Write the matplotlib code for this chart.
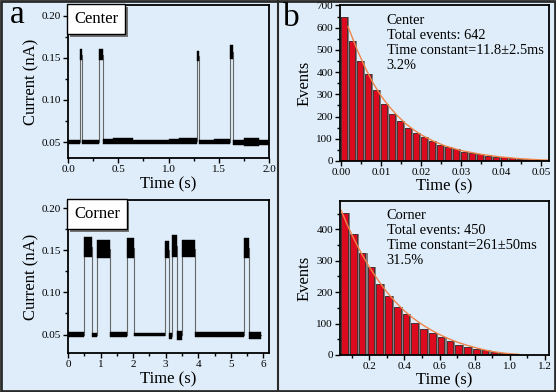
import numpy as np
import matplotlib
matplotlib.use("Agg")
import matplotlib.pyplot as plt
import matplotlib.patheffects as pe
from matplotlib.ticker import MultipleLocator, FormatStrFormatter
from matplotlib.patches import Rectangle
from matplotlib.lines import Line2D

plt.rcParams['font.family'] = ['Liberation Serif', 'DejaVu Serif']

bg = '#deedf9'
bar_red = '#dc0a1e'
fit_orange = '#f0844a'

# current traces: (start, end, level, half noise width) in s / nA
center_trace = [
    (0.00, 0.115, 0.050, 0.0028),
    (0.115, 0.140, 0.154, 0.007),
    (0.140, 0.310, 0.050, 0.0025),
    (0.310, 0.345, 0.154, 0.007),
    (0.345, 0.450, 0.051, 0.003),
    (0.450, 0.650, 0.051, 0.0038),
    (0.650, 0.800, 0.050, 0.0025),
    (0.800, 1.000, 0.050, 0.0022),
    (1.000, 1.100, 0.0505, 0.0028),
    (1.100, 1.288, 0.051, 0.0032),
    (1.288, 1.305, 0.152, 0.006),
    (1.305, 1.450, 0.050, 0.0025),
    (1.450, 1.607, 0.0505, 0.003),
    (1.607, 1.643, 0.157, 0.008),
    (1.643, 1.750, 0.050, 0.003),
    (1.750, 1.900, 0.050, 0.0048),
    (1.900, 2.000, 0.050, 0.003),
]
corner_trace = [
    (0.01, 0.50, 0.050, 0.003),
    (0.50, 0.73, 0.154, 0.012),
    (0.73, 0.88, 0.049, 0.0025),
    (0.88, 1.29, 0.152, 0.011),
    (1.29, 1.80, 0.050, 0.0025),
    (1.80, 2.04, 0.153, 0.012),
    (2.04, 2.97, 0.050, 0.0022),
    (2.97, 3.09, 0.151, 0.010),
    (3.09, 3.19, 0.048, 0.0035),
    (3.19, 3.36, 0.155, 0.013),
    (3.36, 3.50, 0.049, 0.005),
    (3.50, 3.89, 0.152, 0.010),
    (3.89, 4.60, 0.050, 0.0035),
    (4.60, 5.39, 0.050, 0.003),
    (5.39, 5.57, 0.153, 0.012),
    (5.57, 5.92, 0.049, 0.0045),
]

# dwell-time histograms
center_bin_start = 0.0
center_bin_width = 0.002
center_counts = [647, 542, 449, 392, 318, 257, 212, 181, 148, 127, 108, 91, 74,
                 62, 52, 42, 37, 30, 24, 20, 19, 13, 10, 7, 5, 3]
center_fit_t = [0.0017, 0.004, 0.006, 0.008, 0.010, 0.012, 0.014, 0.016, 0.018,
                0.020, 0.023, 0.026, 0.030, 0.035, 0.040, 0.045, 0.050, 0.052]
center_fit_n = [605, 500, 420, 350, 292, 245, 205, 170, 142, 118, 90, 68, 47,
                30, 18, 10, 5, 4]

corner_bin_start = 0.04
corner_bin_width = 0.05
corner_counts = [453, 384, 324, 279, 225, 188, 153, 130, 103, 83, 70, 56, 43,
                 32, 24, 18, 15, 8, 5, 2, 1, 1, 1, 1]
corner_fit_t = [0.04, 0.07, 0.10, 0.13, 0.16, 0.20, 0.25, 0.30, 0.35, 0.40,
                0.45, 0.50, 0.55, 0.60, 0.65, 0.70, 0.75, 0.80, 0.85, 0.90,
                0.95, 1.00, 1.05]
corner_fit_n = [460, 420, 383, 350, 318, 280, 238, 200, 168, 140, 117, 97, 80,
                65, 52, 41, 32, 24, 17, 11, 7, 4, 2]

center_text = "Center\nTotal events: 642\nTime constant=11.8\u00b12.5ms\n3.2%"
corner_text = "Corner\nTotal events: 450\nTime constant=261\u00b150ms\n31.5%"

W, H = 556, 392
fig = plt.figure(figsize=(W / 100, H / 100), dpi=100, facecolor=bg)


def px_axes(l, t, r, b):
    return fig.add_axes([l / W, 1 - b / H, (r - l) / W, (b - t) / H])


def style(ax):
    ax.set_facecolor(bg)
    for s in ax.spines.values():
        s.set_linewidth(1.3)
    ax.tick_params(which='both', direction='out', labelsize=8, width=1,
                   pad=1.5)
    ax.tick_params(which='major', length=3.5)
    ax.tick_params(which='minor', length=2)


def draw_trace(ax, trace):
    starts = [s[0] for s in trace] + [trace[-1][1]]
    levels = [s[2] for s in trace] + [trace[-1][2]]
    ax.step(starts, levels, where='post', color='0.4', lw=0.8, zorder=1)
    for t0, t1, lvl, n in trace:
        ax.fill_between([t0, t1], [lvl - n, lvl - n], [lvl + n, lvl + n],
                        color='k', lw=0.3, zorder=2)


def label_box(ax, txt):
    t = ax.text(0.03, 0.96, txt, transform=ax.transAxes, fontsize=12,
                va='top', ha='left',
                bbox=dict(boxstyle='square,pad=0.4', fc='white', ec='k', lw=1))
    t.get_bbox_patch().set_path_effects([
        pe.SimplePatchShadow(offset=(2, -2), shadow_rgbFace='0.45', alpha=1),
        pe.Normal()])


def draw_hist(ax, start, width, counts, fit_t, fit_n):
    left = start + width * np.arange(len(counts))
    ax.bar(left, counts, width=width, align='edge', color='0.5', lw=0)
    ax.bar(left, counts, width=width * 0.75, align='edge', color=bar_red,
           edgecolor='0.15', lw=0.5)
    ax.plot(fit_t, fit_n, color=fit_orange, lw=1)


# a - top: center trace
ax1 = px_axes(68, 5, 269, 158)
style(ax1)
draw_trace(ax1, center_trace)
ax1.set_xlim(0, 2.0)
ax1.set_ylim(0.031, 0.213)
ax1.xaxis.set_major_locator(MultipleLocator(0.5))
ax1.xaxis.set_minor_locator(MultipleLocator(0.25))
ax1.xaxis.set_major_formatter(FormatStrFormatter('%.1f'))
ax1.yaxis.set_major_locator(MultipleLocator(0.05))
ax1.yaxis.set_minor_locator(MultipleLocator(0.025))
ax1.yaxis.set_major_formatter(FormatStrFormatter('%.2f'))
ax1.set_xlabel('Time (s)', fontsize=12, labelpad=2)
ax1.set_ylabel('Current (nA)', fontsize=12, labelpad=2)
label_box(ax1, 'Center')

# a - bottom: corner trace
ax2 = px_axes(68, 200, 269, 353)
style(ax2)
draw_trace(ax2, corner_trace)
ax2.set_xlim(0, 6.17)
ax2.set_ylim(0.028, 0.21)
ax2.xaxis.set_major_locator(MultipleLocator(1))
ax2.xaxis.set_minor_locator(MultipleLocator(0.5))
ax2.yaxis.set_major_locator(MultipleLocator(0.05))
ax2.yaxis.set_minor_locator(MultipleLocator(0.025))
ax2.yaxis.set_major_formatter(FormatStrFormatter('%.2f'))
ax2.set_xlabel('Time (s)', fontsize=12, labelpad=2)
ax2.set_ylabel('Current (nA)', fontsize=12, labelpad=2)
label_box(ax2, 'Corner')

# b - top: center histogram
ax3 = px_axes(340, 5, 549, 161)
style(ax3)
draw_hist(ax3, center_bin_start, center_bin_width, center_counts,
          center_fit_t, center_fit_n)
ax3.set_xlim(-0.0003, 0.052)
ax3.set_ylim(0, 702)
ax3.xaxis.set_major_locator(MultipleLocator(0.01))
ax3.xaxis.set_minor_locator(MultipleLocator(0.005))
ax3.xaxis.set_major_formatter(FormatStrFormatter('%.2f'))
ax3.yaxis.set_major_locator(MultipleLocator(100))
ax3.yaxis.set_minor_locator(MultipleLocator(50))
ax3.set_xlabel('Time (s)', fontsize=12, labelpad=1)
ax3.set_ylabel('Events', fontsize=12, labelpad=3)
ax3.text(0.223, 0.94, center_text, transform=ax3.transAxes, fontsize=10.4,
         va='top', ha='left', linespacing=1.2)

# b - bottom: corner histogram
ax4 = px_axes(340, 201, 549, 355)
style(ax4)
draw_hist(ax4, corner_bin_start, corner_bin_width, corner_counts,
          corner_fit_t, corner_fit_n)
ax4.set_xlim(0.033, 1.223)
ax4.set_ylim(0, 490)
ax4.xaxis.set_major_locator(MultipleLocator(0.2))
ax4.xaxis.set_minor_locator(MultipleLocator(0.1))
ax4.xaxis.set_major_formatter(FormatStrFormatter('%.1f'))
ax4.yaxis.set_major_locator(MultipleLocator(100))
ax4.yaxis.set_minor_locator(MultipleLocator(50))
ax4.set_xlabel('Time (s)', fontsize=12, labelpad=1)
ax4.set_ylabel('Events', fontsize=12, labelpad=3)
ax4.text(0.223, 0.95, corner_text, transform=ax4.transAxes, fontsize=10.4,
         va='top', ha='left', linespacing=1.2)

# panel letters, frame and divider
fig.text(10 / W, 1 - 23 / H, 'a', fontsize=24, va='baseline', ha='left')
fig.text(283 / W, 1 - 26 / H, 'b', fontsize=24, va='baseline', ha='left')
fig.patches.append(Rectangle((0.002, 0.003), 0.996, 0.994,
                             transform=fig.transFigure, fill=False,
                             ec='#2a2a2a', lw=2))
fig.lines.append(Line2D([278 / W, 278 / W], [0, 1], transform=fig.transFigure,
                        color='#2a2a2a', lw=1.5))

fig.savefig('out.png', dpi=100, facecolor=bg)
